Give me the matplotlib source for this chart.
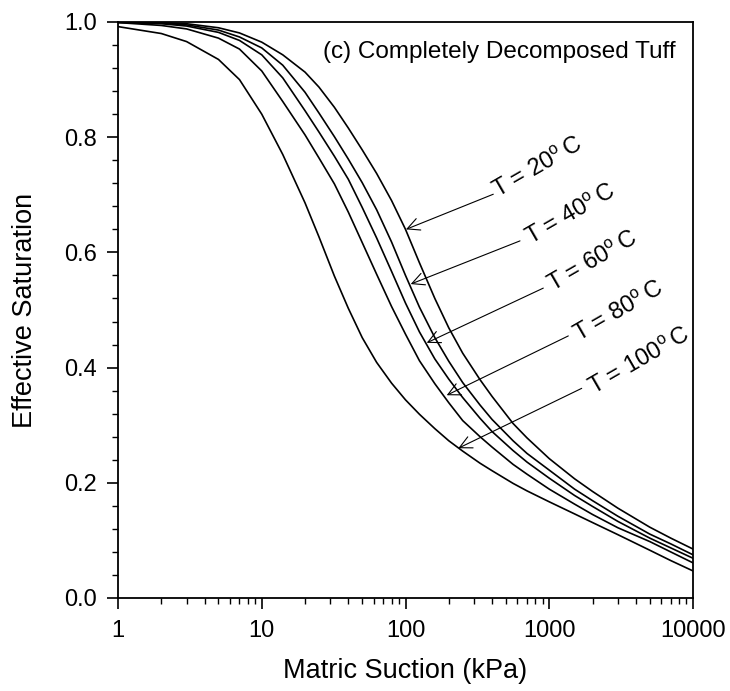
import matplotlib
matplotlib.use("Agg")
import matplotlib.pyplot as plt
from matplotlib.ticker import LogLocator, MultipleLocator, FixedLocator, NullFormatter

plt.rcParams['font.family'] = ['Liberation Sans', 'DejaVu Sans']
plt.rcParams['mathtext.fontset'] = 'custom'
plt.rcParams['mathtext.rm'] = 'Liberation Sans'

# matric suction (kPa) at which values were read
suction = [1, 2, 3, 5, 7, 10, 14, 20, 25, 32, 40, 50, 63, 80, 100, 125, 160, 200,
           250, 330, 400, 560, 700, 1000, 1500, 2000, 3000, 5000, 7000, 10000]

# effective saturation, one list per temperature
se_20 = [1.000, 0.999, 0.997, 0.990, 0.981, 0.965, 0.943, 0.913, 0.887, 0.852,
         0.816, 0.778, 0.737, 0.690, 0.640, 0.582, 0.520, 0.469, 0.425, 0.379,
         0.350, 0.303, 0.278, 0.242, 0.207, 0.185, 0.156, 0.123, 0.104, 0.085]
se_40 = [1.000, 0.998, 0.995, 0.986, 0.974, 0.955, 0.925, 0.878, 0.842, 0.801,
         0.762, 0.721, 0.674, 0.618, 0.560, 0.505, 0.452, 0.411, 0.374, 0.335,
         0.310, 0.273, 0.251, 0.222, 0.189, 0.169, 0.142, 0.111, 0.094, 0.075]
se_60 = [0.999, 0.997, 0.993, 0.982, 0.968, 0.943, 0.903, 0.846, 0.809, 0.767,
         0.727, 0.678, 0.625, 0.567, 0.512, 0.462, 0.415, 0.380, 0.348, 0.312,
         0.289, 0.256, 0.236, 0.208, 0.178, 0.159, 0.133, 0.104, 0.087, 0.069]
se_80 = [0.999, 0.994, 0.988, 0.972, 0.953, 0.915, 0.862, 0.804, 0.764, 0.719,
         0.670, 0.617, 0.562, 0.506, 0.458, 0.412, 0.372, 0.339, 0.308, 0.280,
         0.262, 0.232, 0.215, 0.189, 0.163, 0.145, 0.122, 0.098, 0.080, 0.061]
se_100 = [0.992, 0.980, 0.966, 0.935, 0.900, 0.840, 0.770, 0.686, 0.627, 0.559,
          0.503, 0.452, 0.409, 0.373, 0.344, 0.319, 0.294, 0.273, 0.255, 0.234,
          0.221, 0.199, 0.186, 0.167, 0.146, 0.131, 0.110, 0.083, 0.065, 0.047]

labels = ['20', '40', '60', '80', '100']
# arrow tip (on curve), arrow tail and label anchor, in data units
arrow_tips = [(100.8, 0.640), (108.7, 0.545), (140.5, 0.443), (193.5, 0.352), (233, 0.260)]
arrow_tails = [(408, 0.701), (626, 0.620), (909, 0.538), (1357, 0.455), (1682, 0.364)]
text_pos = [(440, 0.694), (747, 0.613), (1062, 0.531), (1610, 0.444), (2048, 0.352)]

fig = plt.figure(figsize=(7.3, 6.91), dpi=100)
ax = fig.add_axes([118 / 730, 1 - 598 / 691, (693 - 118) / 730, (598 - 22) / 691])

for se in [se_20, se_40, se_60, se_80, se_100]:
    ax.plot(suction, se, color='black', lw=1.2)

for lab, tip, tail, tp in zip(labels, arrow_tips, arrow_tails, text_pos):
    ax.annotate('', xy=tip, xytext=tail,
                arrowprops=dict(arrowstyle='->', color='black', lw=0.8,
                                mutation_scale=22, shrinkA=0, shrinkB=0))
    ax.text(tp[0], tp[1], 'T = ' + lab + r'$^{\mathrm{o}}\,$C', rotation=30,
            rotation_mode='anchor', ha='left', va='baseline', fontsize=17)

ax.text(0.357, 0.948, '(c) Completely Decomposed Tuff', transform=ax.transAxes,
        ha='left', va='center', fontsize=17.5)

ax.set_xscale('log')
ax.set_xlim(1, 10000)
ax.set_ylim(0, 1)
ax.xaxis.set_major_locator(FixedLocator([1, 10, 100, 1000, 10000]))
ax.set_xticklabels(['1', '10', '100', '1000', '10000'])
ax.xaxis.set_minor_locator(LogLocator(base=10, subs=range(2, 10)))
ax.xaxis.set_minor_formatter(NullFormatter())
ax.yaxis.set_major_locator(MultipleLocator(0.2))
ax.yaxis.set_minor_locator(MultipleLocator(0.04))
ax.set_yticks([0.0, 0.2, 0.4, 0.6, 0.8, 1.0])
ax.set_yticklabels(['0.0', '0.2', '0.4', '0.6', '0.8', '1.0'])

ax.tick_params(which='major', direction='out', length=8, width=1.2, labelsize=17)
ax.tick_params(which='minor', direction='out', length=4.5, width=1.0)
ax.tick_params(axis='x', which='major', pad=8)
ax.tick_params(axis='y', which='major', pad=7)
for sp in ax.spines.values():
    sp.set_linewidth(1.3)

ax.set_xlabel('Matric Suction (kPa)', fontsize=19.5, labelpad=11)
ax.set_ylabel('Effective Saturation', fontsize=19.5, labelpad=19)

fig.savefig('out.png', dpi=100)
